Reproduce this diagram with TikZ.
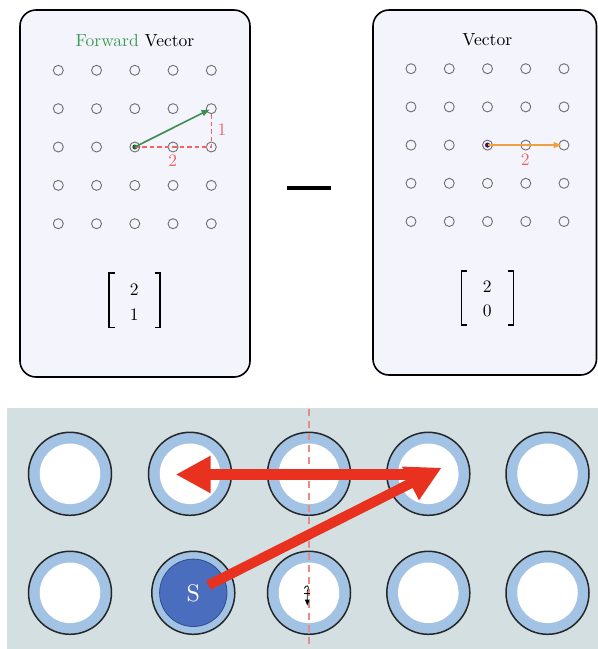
\documentclass[tikz,border=0pt]{standalone}
\usetikzlibrary{arrows.meta}
\definecolor{panelbg}{HTML}{F4F5FC}
\definecolor{gridgray}{HTML}{6E6E6E}
\definecolor{fgreen}{HTML}{3C9A52}
\definecolor{agreen}{HTML}{3A8F4E}
\definecolor{dkgreen}{HTML}{1F5A2C}
\definecolor{dashred}{HTML}{F26464}
\definecolor{lblred}{HTML}{F06464}
\definecolor{aorange}{HTML}{F0A040}
\definecolor{dpurple}{HTML}{3B1166}
\definecolor{ringblue}{HTML}{A3C3E5}
\definecolor{bgblue}{HTML}{D3DFE1}
\definecolor{sblue}{HTML}{4A6EBD}
\definecolor{sborder}{HTML}{2F4C8C}
\definecolor{bigred}{HTML}{E8321F}
\definecolor{pinkdash}{HTML}{E88A8A}
\newcommand{\bigtxt}[1]{\scalebox{1.75}{\fontsize{10}{12}\selectfont #1}}
\begin{document}
\begin{tikzpicture}[x=1pt,y=-1pt,
  panel/.style={draw=black,line width=1.6pt,fill=panelbg,rounded corners=16pt},
  gdot/.style={circle,draw=gridgray,line width=0.9pt,minimum size=10pt,inner sep=0pt},
  cdot/.style={circle,inner sep=0pt,minimum size=5pt},
  title/.style={anchor=base,inner sep=0pt},
  num/.style={anchor=base,inner sep=0pt},
  lbl/.style={anchor=base,inner sep=0pt,text=lblred},
  brk/.style={line width=1.5pt},
  ring/.style={circle,draw=black!85,line width=1.5pt,fill=ringblue,minimum size=83pt,inner sep=0pt},
  hole/.style={circle,fill=white,minimum size=60.5pt,inner sep=0pt},
  bigarrow/.style={draw=bigred,line width=11pt,-{Triangle[length=35pt,width=35pt]},fill=bigred},
]
\useasboundingbox (0,0) rectangle (598,649);

% ---------- top panels ----------
\draw[panel] (20,10) rectangle (250,377);
\draw[panel] (373,10) rectangle (596.5,375);

\node[title] (Lt) at (135,46) {\bigtxt{\textcolor{fgreen}{Forward} Vector}};
\node[title] (Rt) at (487.3,45) {\bigtxt{Vector}};

\foreach \c in {0,...,4}{
  \foreach \r in {0,...,4}{
    \node[gdot] (L-\c-\r) at ({58.3+38.25*\c},{70.3+38.35*\r}) {};
    \node[gdot] (R-\c-\r) at ({411+38.25*\c},{68.7+38.2*\r}) {};
  }
}
\node[cdot,fill=dkgreen] (Lc) at (L-2-2) {};
\node[cdot,fill=dpurple] (Rc) at (R-2-2) {};

% left vector
\draw[draw=dashred,dash pattern=on 4.5pt off 3pt,line width=1.2pt]
  (L-2-2.center) -- (L-4-2.center) -- (L-4-1.south);
\draw[agreen,line width=1.6pt,-{Triangle[length=8pt,width=6pt]},shorten >=2pt]
  (L-2-2.center) -- (L-4-1.center);
\node[lbl] (L2) at (172.7,166.7) {\bigtxt{2}};
\node[lbl] (L1) at (222,135) {\bigtxt{1}};

% right vector
\draw[aorange,line width=1.6pt,-{Triangle[length=8pt,width=6pt]},shorten >=2.5pt]
  (R-2-2.center) -- (R-4-2.center);
\node[lbl] (R2) at (525.3,165) {\bigtxt{2}};

% matrices
\draw[brk] (114.5,273) -- (109,273) -- (109,327.7) -- (114.5,327.7);
\draw[brk] (154.5,273) -- (160,273) -- (160,327.7) -- (154.5,327.7);
\node[num] (Lm1) at (134.3,295) {\bigtxt{2}};
\node[num] (Lm2) at (134.3,320) {\bigtxt{1}};

\draw[brk] (467,271) -- (461.7,271) -- (461.7,325) -- (467,325);
\draw[brk] (508,271) -- (513.3,271) -- (513.3,325) -- (508,325);
\node[num] (Rm1) at (487.3,292.7) {\bigtxt{2}};
\node[num] (Rm2) at (487.3,316.3) {\bigtxt{0}};

% minus sign
\fill[black] (287.3,185.5) rectangle (331,190.3);

% ---------- bottom strip ----------
\fill[bgblue] (7,407.5) rectangle (598,649);

\foreach \c/\x in {0/70,1/190,2/309,3/428.3,4/547.5}{
  \node[ring] (B-\c-0) at (\x,473.8) {};
  \node[hole] at (B-\c-0) {};
}
\foreach \c/\x in {0/70,2/309,3/428.3,4/547.5}{
  \node[ring] (B-\c-1) at (\x,592.8) {};
  \node[hole] at (B-\c-1) {};
}
\node[ring] (B-1-1) at (193.3,592.8) {};
\node[circle,fill=sblue,draw=sborder,line width=0.8pt,minimum size=67.4pt,inner sep=0pt] (S) at (B-1-1) {};
\node[text=white,anchor=base,inner sep=0pt] (Stxt) at (193.3,601.7) {\scalebox{2.4}{\fontsize{10}{12}\selectfont S}};

% dashed mirror line
\draw[pinkdash,line width=1.4pt,dash pattern=on 7pt off 5pt] (309,409) -- (309,649);

% small glyph in the middle bottom circle
\draw[black,line width=0.8pt] (304.3,588.5) .. controls (305.5,584.5) and (310.5,584.8) .. (307.3,591)
  -- (307.3,603);
\draw[black,line width=0.8pt] (304.3,593.3) -- (310.3,593.3);
\fill[black] (304.8,599.5) -- (309.8,599.5) -- (307.3,605.5) -- cycle;

% big red arrows
\coordinate (h0) at (424,474.5);
\coordinate (h1) at (175.7,474.5);
\coordinate (d1) at (441.7,467.7);
\draw[bigarrow] (h0) -- (h1);
\draw[bigarrow,line width=10pt,shorten <=17pt] (S.center) -- (d1);
\end{tikzpicture}
\end{document}
